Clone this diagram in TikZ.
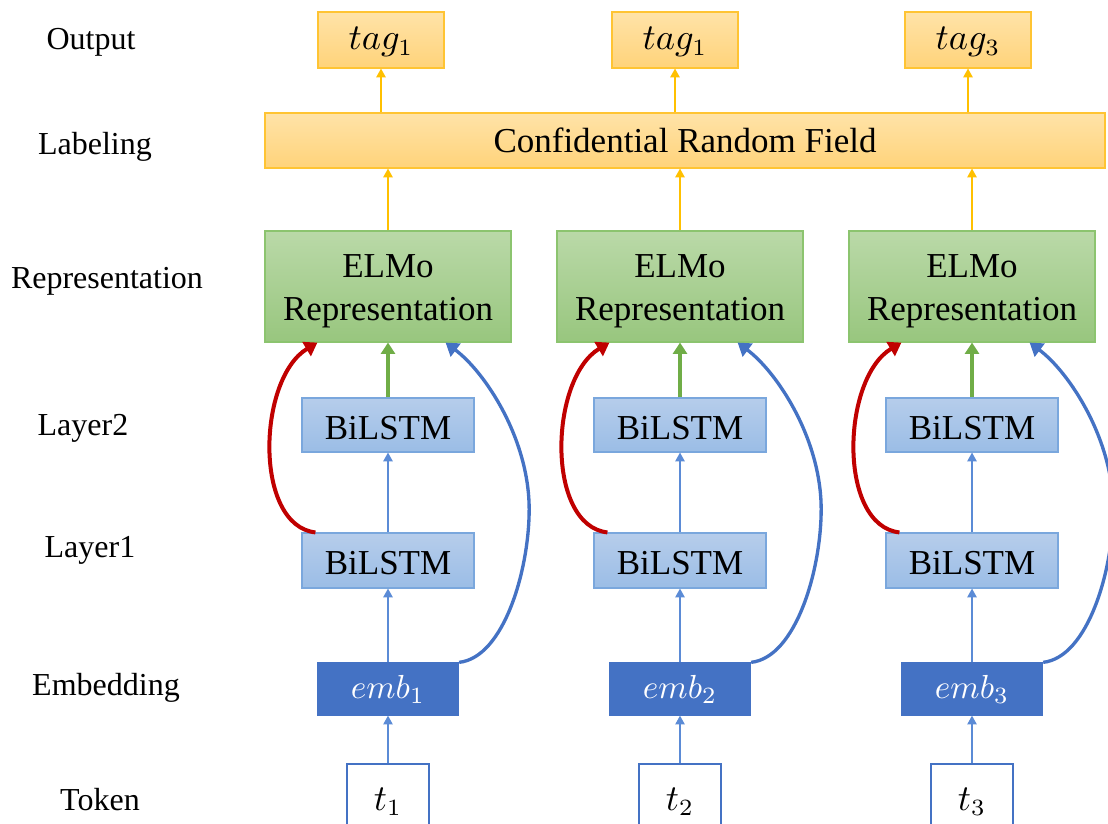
\documentclass[tikz,border=0pt]{standalone}
\usepackage{fontspec}
\setmainfont{Liberation Serif}
\usetikzlibrary{arrows.meta,calc}
\definecolor{orTop}{HTML}{FFE3A8}
\definecolor{orBot}{HTML}{FFD37A}
\definecolor{orBorder}{HTML}{FFC433}
\definecolor{orLine}{HTML}{FFC000}
\definecolor{grTop}{HTML}{BAD9A8}
\definecolor{grBot}{HTML}{98C67E}
\definecolor{grBorder}{HTML}{8CC46F}
\definecolor{blTop}{HTML}{B6CDEB}
\definecolor{blBot}{HTML}{9BBDE6}
\definecolor{blBorder}{HTML}{7AA7DD}
\definecolor{embFill}{HTML}{4472C4}
\definecolor{blLine}{HTML}{5B8BD6}
\definecolor{redC}{HTML}{C00000}
\definecolor{grC}{HTML}{70AD47}
\begin{document}
\begin{tikzpicture}[x=0.3pt,y=-0.3pt,
  boxtext/.style={font=\fontsize{10.5}{12.9}\selectfont},
  wh/.style 2 args={minimum width=#1*0.3pt, minimum height=#2*0.3pt},
  obox/.style={boxtext, draw=orBorder, line width=0.35pt, top color=orTop, bottom color=orBot, inner sep=0pt},
  gbox/.style={boxtext, draw=grBorder, line width=0.35pt, top color=grTop, bottom color=grBot, inner sep=0pt, align=center},
  bbox/.style={boxtext, draw=blBorder, line width=0.35pt, top color=blTop, bottom color=blBot, inner sep=0pt},
  ebox/.style={font=\fontsize{10}{12}\selectfont, draw=embFill, fill=embFill, text=white, inner sep=0pt},
  tbox/.style={boxtext, draw=embFill, line width=0.35pt, fill=white, inner sep=0pt},
  lab/.style={font=\fontsize{9.6}{11}\selectfont, inner sep=0pt},
  thinor/.style={draw=orLine, line width=0.35pt, -{Triangle[length=2.6pt,width=2.8pt]}},
  thinbl/.style={draw=blLine, line width=0.35pt, -{Triangle[length=2.6pt,width=2.8pt]}},
  redc/.style={draw=redC, line width=1.2pt, -{Triangle[length=3.8pt,width=4.8pt]}},
  bluec/.style={draw=embFill, line width=1.0pt, -{Triangle[length=3.8pt,width=4.8pt]}},
  greenc/.style={draw=grC, line width=1.4pt, -{Triangle[length=3.4pt,width=4.2pt]}}
]
\fill[white] (0,0) rectangle (1108,823);
\useasboundingbox (0,0) rectangle (1108,823);

% row labels
\node[lab] (lOut) at (91,42) {Output};
\node[lab] (lLab) at (95,147) {Labeling};
\node[lab] (lRep) at (107,281) {Representation};
\node[lab] (lL2) at (83,428) {Layer2};
\node[lab] (lL1) at (90,550) {Layer1};
\node[lab] (lEmb) at (106,688) {Embedding};
\node[lab] (lTok) at (100,800) {Token};

% CRF
\node[obox, wh={840}{55}] (crf) at (685,140.5) {Confidential Random Field};

\foreach \i/\x/\tx/\tg in {1/388/381/1, 2/680/675/1, 3/972/968/3}{
  \node[obox, wh={126}{56}] (tag\i) at (\tx,40) {\rule{0pt}{8pt}$tag_{\tg}$};
  \node[gbox, wh={246}{111}] (elmo\i) at (\x,286.5) {\rule{0pt}{10pt}ELMo\\Representation};
  \node[bbox, wh={172}{54}] (lb\i) at (\x,425) {\rule{0pt}{8.5pt}BiLSTM};
  \node[bbox, wh={172}{55}] (la\i) at (\x,560.5) {\rule{0pt}{8.5pt}BiLSTM};
  \node[ebox, wh={141}{52}] (emb\i) at (\x,689) {$emb_{\i}$};
  \node[tbox, wh={82}{76}] (tok\i) at (\x,802) {$t_{\i}$};

  \draw[thinor] (tag\i.south |- crf.north) -- (tag\i.south);
  \draw[thinor] (elmo\i.north) -- (elmo\i.north |- crf.south);
  \draw[greenc] (lb\i.north) -- (lb\i.north |- elmo\i.south);
  \draw[thinbl] (la\i.north) -- (lb\i.south);
  \draw[thinbl] (emb\i.north) -- (la\i.south);
  \draw[thinbl] (tok\i.north) -- (emb\i.south);
  \draw[redc] ($(la\i.north west)+(14,0)$) .. controls +(-62,-7) and +(-60,36) .. ($(elmo\i.south west)+(53,0)$);
  \coordinate (bm\i) at ($(emb\i.north east)+(70,-153)$);
  \draw[bluec] (emb\i.north east) .. controls +(45,-5) and +(0,60) .. (bm\i) .. controls +(0,-70) and +(40,30) .. ($(elmo\i.south east)+(-66,0)$);
}
\end{tikzpicture}
\end{document}
